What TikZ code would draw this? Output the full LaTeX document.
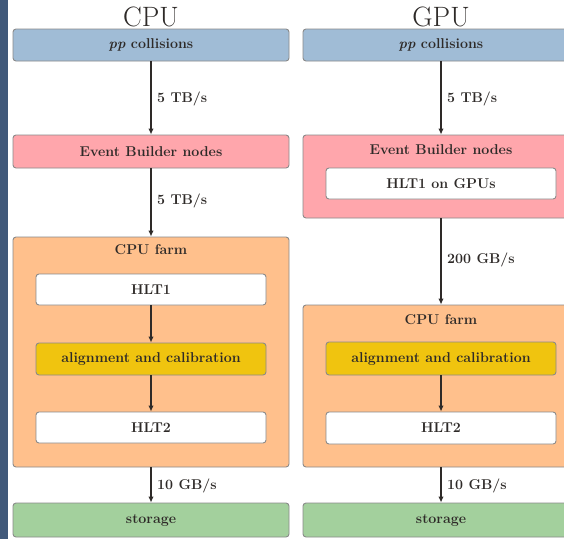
\documentclass[tikz,border=0pt]{standalone}
\usetikzlibrary{arrows.meta}
\definecolor{srcblue}{HTML}{A0BCD6}
\definecolor{ebpink}{HTML}{FFA6AC}
\definecolor{farmorange}{HTML}{FFC08C}
\definecolor{alignyellow}{HTML}{F0C40F}
\definecolor{storegreen}{HTML}{A3D09D}
\definecolor{edgegrey}{HTML}{8A8A8A}
\definecolor{inkdark}{HTML}{2E2A28}
\definecolor{sidebar}{HTML}{41597A}
\tikzset{
  labelfont/.style={font=\fontsize{14.2}{17}\selectfont\bfseries},
  box/.style={draw=edgegrey, line width=0.9pt, rounded corners=3pt, inner sep=0pt,
    minimum width=276pt, text=inkdark, labelfont},
  stagebox/.style={box, minimum height=32pt},
  innerbox/.style={box, fill=white, minimum width=230pt, minimum height=31pt},
  boxtitle/.style={text=inkdark, labelfont, inner sep=0pt},
  coltitle/.style={text=inkdark, font=\fontsize{28}{32}\selectfont, inner sep=0pt},
  flow/.style={draw=inkdark, line width=1.5pt, -{Latex[length=6pt,width=5.5pt]}},
  rate/.style={text=inkdark, labelfont, anchor=west, inner sep=0pt}
}
\begin{document}
\begin{tikzpicture}[x=1pt, y=-1pt]
\useasboundingbox (0,0) rectangle (564,539);
\fill[white] (0,0) rectangle (564,539);
\clip (0,0) rectangle (564,539);
\fill[sidebar] (0,0) rectangle (8,539);

% ---------- CPU column ----------
\node[coltitle] (cputitle) at (151,17) {CPU};
\node[stagebox, fill=srcblue] (cpupp) at (151,45) {\textit{pp} collisions};
\node[stagebox, fill=ebpink, minimum height=33pt] (cpueb) at (151,151.5) {Event Builder nodes};
\node[box, fill=farmorange, minimum height=230pt] (cpufarm) at (151,352) {};
\node[boxtitle] (cpufarmtitle) at (151,250) {CPU farm};
\node[innerbox] (cpuhltone) at (151,289.5) {HLT1};
\node[innerbox, fill=alignyellow, minimum height=32pt] (cpualign) at (151,359) {alignment and calibration};
\node[innerbox] (cpuhlttwo) at (151,427.5) {HLT2};
\node[stagebox, fill=storegreen, minimum height=34pt] (cpustore) at (151,520) {storage};

\draw[flow] (cpupp.south) -- (cpueb.north);
\draw[flow] (cpueb.south) -- (cpufarm.north);
\draw[flow] (cpuhltone.south) -- (cpualign.north);
\draw[flow] (cpualign.south) -- (cpuhlttwo.north);
\draw[flow] (cpufarm.south) -- (cpustore.north);
\node[rate] (cpurateone) at (157,99) {5 TB/s};
\node[rate] (cpuratetwo) at (157,201) {5 TB/s};
\node[rate] (cpuratethree) at (157,486) {10 GB/s};

% ---------- GPU column ----------
\node[coltitle] (gputitle) at (441,17) {GPU};
\node[stagebox, fill=srcblue] (gpupp) at (441,45) {\textit{pp} collisions};
\node[box, fill=ebpink, minimum height=83pt] (gpueb) at (441,176.5) {};
\node[boxtitle] (gpuebtitle) at (441,150) {Event Builder nodes};
\node[innerbox] (gpuhltone) at (441,183.5) {HLT1 on GPUs};
\node[box, fill=farmorange, minimum height=162pt] (gpufarm) at (441,386) {};
\node[boxtitle] (gpufarmtitle) at (441,320) {CPU farm};
\node[innerbox, fill=alignyellow, minimum height=33pt] (gpualign) at (441,358.5) {alignment and calibration};
\node[innerbox, minimum height=32pt] (gpuhlttwo) at (441,428) {HLT2};
\node[stagebox, fill=storegreen, minimum height=34pt] (gpustore) at (441,520) {storage};

\draw[flow] (gpupp.south) -- (gpueb.north);
\draw[flow] (gpueb.south) -- (gpufarm.north);
\draw[flow] (gpualign.south) -- (gpuhlttwo.north);
\draw[flow] (gpufarm.south) -- (gpustore.north);
\node[rate] (gpurateone) at (447,99) {5 TB/s};
\node[rate] (gpuratetwo) at (447,260) {200 GB/s};
\node[rate] (gpuratethree) at (447,486) {10 GB/s};
\end{tikzpicture}
\end{document}
